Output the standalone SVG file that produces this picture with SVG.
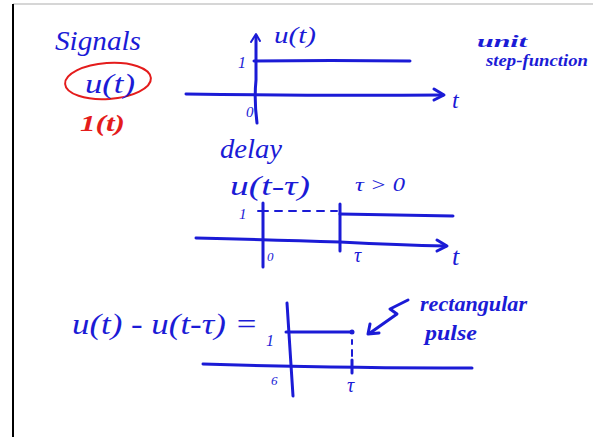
<svg xmlns="http://www.w3.org/2000/svg" width="593" height="437" viewBox="0 0 593 437">
<style>
.ink{fill:none;stroke:#1b1bd6;stroke-width:3;stroke-linecap:round;stroke-linejoin:round}
.thin{fill:none;stroke:#1b1bd6;stroke-width:2;stroke-linecap:round;stroke-linejoin:round}
.t{font-family:"Liberation Serif",serif;font-style:italic;fill:#1b1bd6}
.r{font-family:"Liberation Serif",serif;font-style:italic;fill:#e41c1c}
</style>
<rect width="593" height="437" fill="#fff"/>
<line x1="13" y1="4" x2="593" y2="4" stroke="#c8c8c8" stroke-width="1.5"/>
<line x1="13" y1="4" x2="13" y2="437" stroke="#000" stroke-width="2"/>

<g id="title">
<text class="t" x="55" y="50" font-size="28" textLength="86" lengthAdjust="spacingAndGlyphs">Signals</text>
<ellipse cx="108" cy="81" rx="43" ry="18" fill="none" stroke="#e41c1c" stroke-width="2" transform="rotate(-4 108 81)"/>
<text class="t" x="85" y="93" font-size="28" textLength="50" lengthAdjust="spacingAndGlyphs">u(t)</text>
<text class="r" x="80" y="131" font-size="23" font-weight="bold" textLength="45" lengthAdjust="spacingAndGlyphs">1(t)</text>
</g>

<g id="plot1">
<path class="ink" d="M186,94 Q320,96 443,95"/>
<path class="ink" d="M434,89 L444,95 L434,100"/>
<path class="ink" d="M257,123 Q254,100 256,80 L256,36"/>
<path class="thin" d="M251,42 L256,34 L260,41"/>
<path class="ink" d="M254,61 Q330,60 410,61"/>
<text class="t" x="238" y="68" font-size="16">1</text>
<text class="t" x="246" y="117" font-size="15">0</text>
<text class="t" x="274" y="43" font-size="24" textLength="42" lengthAdjust="spacingAndGlyphs">u(t)</text>
<text class="t" x="452" y="108" font-size="24">t</text>
<text class="t" x="477" y="47" font-size="16" font-weight="bold" textLength="50" lengthAdjust="spacingAndGlyphs">unit</text>
<text class="t" x="486" y="66" font-size="16" font-weight="bold" textLength="102" lengthAdjust="spacingAndGlyphs">step-function</text>
</g>

<g id="plot2">
<text class="t" x="220" y="158" font-size="28" textLength="62" lengthAdjust="spacingAndGlyphs">delay</text>
<text class="t" x="230" y="195" font-size="27" textLength="80" lengthAdjust="spacingAndGlyphs">u(t-τ)</text>
<text class="t" x="355" y="191" font-size="18" textLength="50" lengthAdjust="spacingAndGlyphs">τ &gt; 0</text>
<path class="ink" d="M196,238 Q280,240 340,242 Q400,245 446,246"/>
<path class="ink" d="M437,240 L447,246 L437,251"/>
<path class="ink" d="M263,203 L263,267"/>
<path class="thin" d="M258,211 L268,211"/>
<path class="thin" d="M275,211 L337,211" stroke-dasharray="7 7"/>
<path class="ink" d="M340,204 L340,251"/>
<path class="ink" d="M340,214 Q400,215 453,216"/>
<text class="t" x="239" y="219" font-size="15">1</text>
<text class="t" x="267" y="261" font-size="13">0</text>
<text class="t" x="354" y="262" font-size="20">τ</text>
<text class="t" x="452" y="265" font-size="26">t</text>
</g>

<g id="plot3">
<text class="t" x="72" y="334" font-size="29" textLength="186" lengthAdjust="spacingAndGlyphs">u(t) - u(t-τ) =</text>
<path class="ink" d="M287,303 Q290,350 293,396"/>
<path class="ink" d="M203,364 Q320,368 472,368"/>
<path class="ink" d="M286,332 L352,332"/>
<circle cx="352" cy="332" r="2.5" fill="#1b1bd6"/>
<path class="thin" d="M352,340 L352,344 M352,350 L352,356"/>
<path class="ink" d="M352,360 L352,373"/>
<text class="t" x="266" y="346" font-size="16">1</text>
<text class="t" x="271" y="385" font-size="13">6</text>
<text class="t" x="347" y="392" font-size="20">τ</text>
<path class="ink" d="M408,300 L390,309 L397,314 L370,333"/>
<path class="ink" d="M370,324 L368,334 L379,333"/>
<text class="t" x="420" y="311" font-size="21" font-weight="bold" textLength="107" lengthAdjust="spacingAndGlyphs">rectangular</text>
<text class="t" x="425" y="340" font-size="22" font-weight="bold" textLength="52" lengthAdjust="spacingAndGlyphs">pulse</text>
</g>
</svg>
